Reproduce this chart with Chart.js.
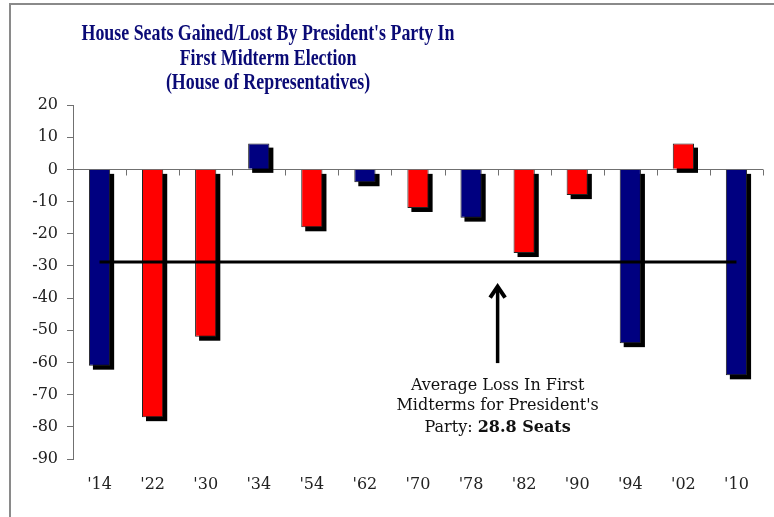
<!DOCTYPE html>
<html><head><meta charset="utf-8">
<script src="https://cdn.jsdelivr.net/npm/chart.js@4"></script>
<style>html,body{margin:0;padding:0;background:#fff}canvas{display:block}</style>
</head><body>
<canvas id="c" width="774" height="517"></canvas>
<script>
const categories = ["'14","'22","'30","'34","'54","'62","'70","'78","'82","'90","'94","'02","'10"];
const seatChange = [-61, -77, -52, 8, -18, -4, -12, -15, -26, -8, -54, 8, -64];
const presidentParty = ["D","R","R","D","R","D","R","D","R","R","D","R","D"];
const averageLoss = -28.8;
const yMin = -90, yMax = 20, yStep = 10;
const titleLines = ["House Seats Gained/Lost By President's Party In", "First Midterm Election", "(House of Representatives)"];
const noteLines = ["Average Loss In First", "Midterms for President's"];
const noteLastPlain = "Party: ";
const noteLastBold = "28.8 Seats";
// annotation anchor in data units (between '78 and '82)
const noteX = 7.5;
const arrowFrom = -60.2, arrowTo = -35.5;
const noteBaselines = [-68.7, -74.9, -81.7];

const partyColor = { D: '#000080', R: '#ff0000' };
const SERIF = '"DejaVu Serif", serif';

function catPixel(chart, v) {
  const x = chart.scales.x;
  const i = Math.floor(v), f = v - i;
  const p0 = x.getPixelForValue(i);
  const step = (chart.chartArea.right - chart.chartArea.left) / categories.length;
  return p0 + f * step;
}

const decor = {
  id: 'decor',
  beforeDraw(chart) {
    const ctx = chart.ctx;
    ctx.save();
    ctx.fillStyle = '#fff';
    ctx.fillRect(0, 0, chart.width, chart.height);
    ctx.strokeStyle = '#8a8a8a';
    ctx.lineWidth = 2;
    ctx.beginPath();
    ctx.moveTo(10, chart.height);
    ctx.lineTo(10, 4);
    ctx.lineTo(chart.width, 4);
    ctx.stroke();
    ctx.fillStyle = '#0a0a76';
    ctx.font = 'bold 24px "Liberation Serif", serif';
    ctx.textAlign = 'center';
    ctx.textBaseline = 'alphabetic';
    const sx = 373 / ctx.measureText(titleLines[0]).width;
    const ys = [40, 65, 89];
    titleLines.forEach((t, i) => {
      ctx.save();
      ctx.translate(268, ys[i]);
      ctx.scale(sx, 1);
      ctx.fillText(t, 0, 0);
      ctx.restore();
    });
    ctx.restore();
  },
  beforeDatasetsDraw(chart) {
    const ctx = chart.ctx, y = chart.scales.y, a = chart.chartArea;
    const y0 = Math.round(y.getPixelForValue(0)) + 0.5;
    ctx.save();
    ctx.strokeStyle = '#707070';
    ctx.lineWidth = 1;
    ctx.beginPath();
    ctx.moveTo(a.left, y0);
    ctx.lineTo(a.right, y0);
    for (let i = 1; i <= categories.length; i++) {
      const px = Math.round(catPixel(chart, i - 0.5)) + 0.5;
      ctx.moveTo(px, y0);
      ctx.lineTo(px, y0 + 6);
    }
    ctx.stroke();
    const meta = chart.getDatasetMeta(0);
    ctx.fillStyle = '#000';
    meta.data.forEach(b => {
      const p = b.getProps(['x', 'y', 'base', 'width'], true);
      const top = Math.min(p.y, p.base), h = Math.abs(p.base - p.y);
      ctx.fillRect(p.x - p.width / 2 + 4, top + 4, p.width, h);
    });
    ctx.restore();
  },
  afterDatasetsDraw(chart) {
    const ctx = chart.ctx, y = chart.scales.y;
    const ax = catPixel(chart, noteX);
    const tip = y.getPixelForValue(arrowTo), tail = y.getPixelForValue(arrowFrom);
    ctx.save();
    ctx.strokeStyle = '#000';
    ctx.lineWidth = 3.5;
    ctx.beginPath();
    ctx.moveTo(ax, tail);
    ctx.lineTo(ax, tip + 4);
    ctx.stroke();
    ctx.lineWidth = 4;
    ctx.lineJoin = 'miter';
    ctx.beginPath();
    ctx.moveTo(ax - 7.5, tip + 14);
    ctx.lineTo(ax, tip + 3);
    ctx.lineTo(ax + 7.5, tip + 14);
    ctx.stroke();
    ctx.fillStyle = '#111';
    ctx.textAlign = 'center';
    ctx.textBaseline = 'alphabetic';
    ctx.font = '16px ' + SERIF;
    noteLines.forEach((t, i) => ctx.fillText(t, ax, y.getPixelForValue(noteBaselines[i])));
    const wPlain = ctx.measureText(noteLastPlain).width;
    ctx.font = 'bold 16px ' + SERIF;
    const wBold = ctx.measureText(noteLastBold).width;
    const start = ax - (wPlain + wBold) / 2;
    const by = y.getPixelForValue(noteBaselines[2]);
    ctx.textAlign = 'left';
    ctx.font = '16px ' + SERIF;
    ctx.fillText(noteLastPlain, start, by);
    ctx.font = 'bold 16px ' + SERIF;
    ctx.fillText(noteLastBold, start + wPlain, by);
    ctx.restore();
  }
};

new Chart(document.getElementById('c'), {
  type: 'bar',
  data: {
    labels: categories,
    datasets: [
      {
        type: 'bar',
        data: seatChange,
        backgroundColor: presidentParty.map(p => partyColor[p]),
        borderColor: '#222',
        borderWidth: 1,
        barPercentage: 0.4,
        categoryPercentage: 1,
        order: 2
      },
      {
        type: 'line',
        data: categories.map(() => averageLoss),
        borderColor: '#000',
        borderWidth: 3,
        pointRadius: 0,
        fill: false,
        order: 1
      }
    ]
  },
  options: {
    responsive: false,
    devicePixelRatio: 1,
    animation: false,
    layout: { padding: { top: 105, right: 11, bottom: 18, left: 0 } },
    plugins: { legend: { display: false }, tooltip: { enabled: false }, title: { display: false } },
    scales: {
      x: {
        grid: { display: false, drawTicks: false },
        border: { display: false },
        ticks: { font: { family: SERIF, size: 16 }, color: '#222', padding: 16, maxRotation: 0 },
        afterFit(s) { s.height = 40; }
      },
      y: {
        min: yMin, max: yMax,
        grid: { drawOnChartArea: false, color: '#707070', tickLength: 6 },
        border: { display: true, color: '#707070' },
        ticks: { stepSize: yStep, font: { family: SERIF, size: 16 }, color: '#222', padding: 9 },
        afterFit(s) { s.width = 73; }
      }
    }
  },
  plugins: [decor]
});
</script>
</body></html>
